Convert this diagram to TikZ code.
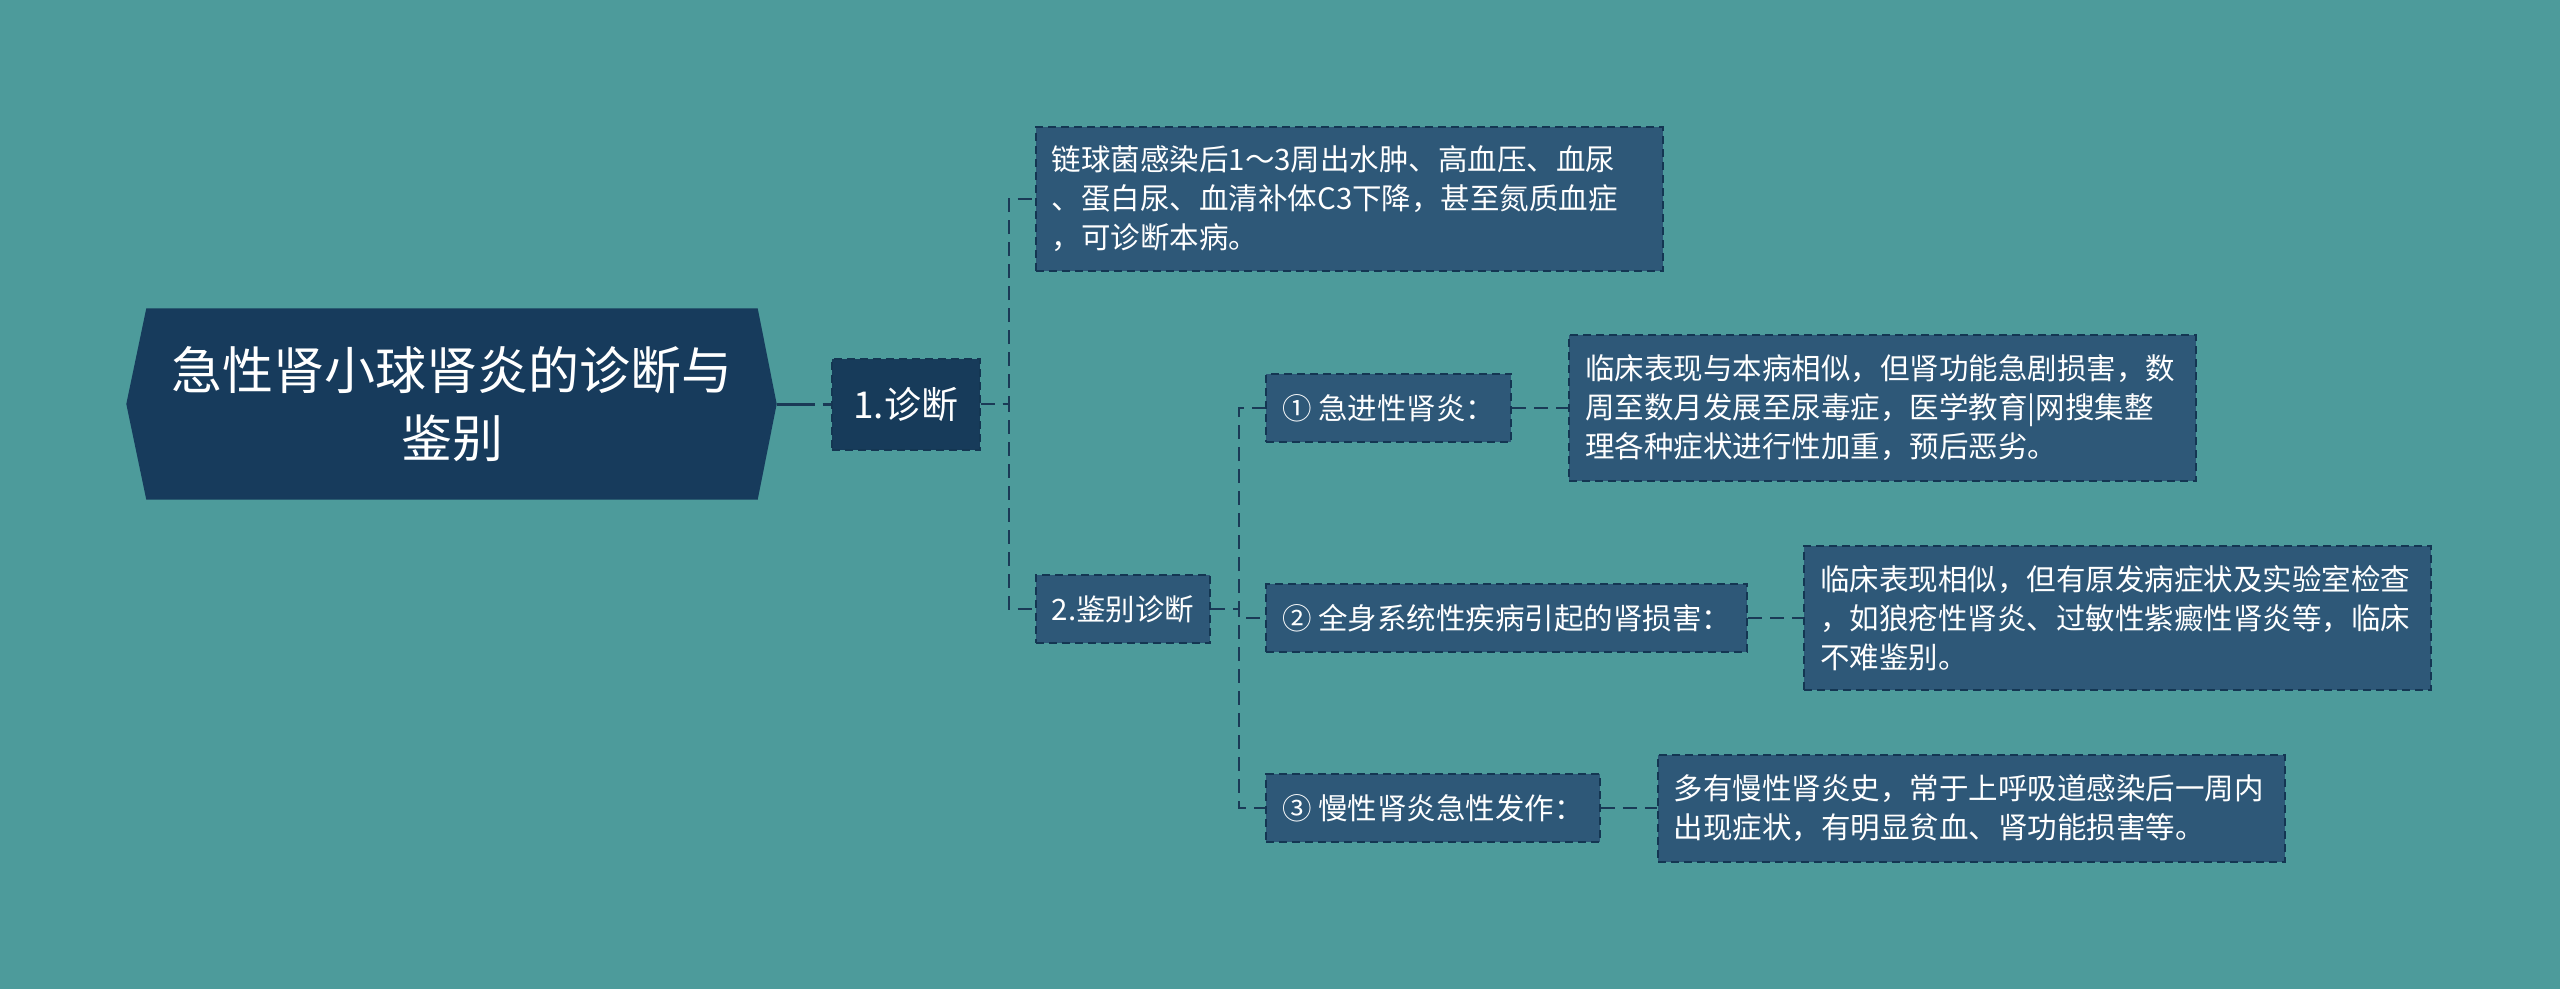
\documentclass[tikz,border=0pt]{standalone}
\usepackage{fontspec}
\newfontfamily\cjk{Noto Sans CJK SC}
\usetikzlibrary{positioning, backgrounds, calc}
\definecolor{bgteal}{HTML}{4D9B9B}
\definecolor{rootnavy}{HTML}{173B5C}
\definecolor{nodenavy}{HTML}{173B5A}
\definecolor{nodesteel}{HTML}{2E5878}
\definecolor{edgenavy}{HTML}{143652}
\definecolor{linknavy}{HTML}{1A3A56}

\begin{document}
\begin{tikzpicture}[
  x=1pt, y=-1pt,
  font=\cjk, text=white,
  rootbox/.style = {minimum width=611pt, minimum height=191pt, align=center,
                    font=\cjk\fontsize{51pt}{68pt}\selectfont},
  topic/.style   = {draw=edgenavy, fill=nodenavy, line width=2pt,
                    dash pattern=on 8pt off 5pt, inner sep=0pt,
                    minimum width=148pt, minimum height=91pt,
                    font=\cjk\fontsize{37pt}{44pt}\selectfont},
  sub/.style     = {draw=edgenavy, fill=nodesteel, line width=2pt,
                    dash pattern=on 8pt off 5pt, inner xsep=16pt, inner ysep=0pt,
                    minimum height=68pt, font=\cjk\fontsize{29.5pt}{39pt}\selectfont},
  leaf/.style    = {sub, align=left, text width=595pt},
  link/.style    = {draw=linknavy, line width=2pt, dash pattern=on 14pt off 8pt},
]
  \useasboundingbox (0,0) rectangle (2560,989);

  \node[rootbox] (root) at (452,404) {急性肾小球肾炎的诊断与\\鉴别};
  \coordinate (roottip) at ($(root.east)+(19pt,0)$);

  \node[topic, right=73pt of root] (diag) {1.诊断};
  \node[leaf, minimum height=144pt, right=54pt of diag, yshift=205pt] (criteria)
    {链球菌感染后1～3周出水肿、高血压、血尿\\、蛋白尿、血清补体C3下降，甚至氮质血症\\，可诊断本病。};
  \node[sub, right=54pt of diag, yshift=-205pt] (differ) {2.鉴别诊断};

  \node[sub, right=54pt of differ, yshift=201pt] (rapid)    {① 急进性肾炎：};
  \node[sub, right=54pt of differ, yshift=-9pt]  (systemic) {② 全身系统性疾病引起的肾损害：};
  \node[sub, right=54pt of differ, yshift=-199pt] (chronic) {③ 慢性肾炎急性发作：};

  \node[leaf, minimum height=146pt, right=56pt of rapid] (rapidtxt)
    {临床表现与本病相似，但肾功能急剧损害，数\\周至数月发展至尿毒症，医学教育|网搜集整\\理各种症状进行性加重，预后恶劣。};
  \node[leaf, minimum height=144pt, right=55pt of systemic] (systxt)
    {临床表现相似，但有原发病症状及实验室检查\\，如狼疮性肾炎、过敏性紫癜性肾炎等，临床\\不难鉴别。};
  \node[leaf, minimum height=107pt, right=56pt of chronic] (chrontxt)
    {多有慢性肾炎史，常于上呼吸道感染后一周内\\出现症状，有明显贫血、肾功能损害等。};

  \begin{scope}[on background layer]
    \fill[bgteal] (0,0) rectangle (2560,989);
    \fill[rootnavy] ($(root.west)+(-20pt,0)$) -- (root.north west) -- (root.north east)
      -- (roottip) -- (root.south east) -- (root.south west) -- cycle;
  \end{scope}

  \draw[link, line width=3pt, dash pattern=on 38pt off 8pt] (roottip) -- (diag);
  \draw[link] (diag.east) -- ++(28pt,0) |- (criteria.west);
  \draw[link] (diag.east) -- ++(28pt,0) |- (differ.west);
  \draw[link] (differ.east) -- ++(28pt,0) |- (rapid.west);
  \draw[link] (differ.east) -- ++(28pt,0) |- (systemic.west);
  \draw[link] (differ.east) -- ++(28pt,0) |- (chronic.west);
  \draw[link] (rapid.east) -- (rapid.east -| rapidtxt.west);
  \draw[link] (systemic.east) -- (systemic.east -| systxt.west);
  \draw[link] (chronic.east) -- (chronic.east -| chrontxt.west);
\end{tikzpicture}
\end{document}
